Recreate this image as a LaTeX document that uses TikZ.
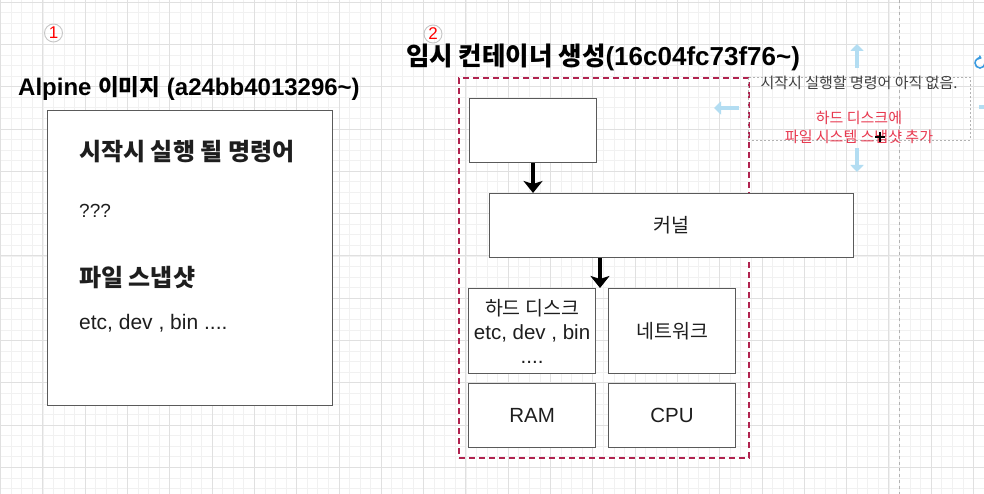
\documentclass[tikz,border=0pt]{standalone}
\usepackage{fontspec}
\setmainfont{Liberation Sans}
\newfontfamily\kr{Noto Sans CJK KR}
\usetikzlibrary{arrows.meta}
\definecolor{dred}{HTML}{B0234F}
\definecolor{anred}{HTML}{E8384F}
\definecolor{ltblue}{HTML}{B3DDF2}
\definecolor{rotblue}{HTML}{3A9AE0}
\definecolor{boxgray}{HTML}{5A5A5A}
\definecolor{txt}{HTML}{1E1E1E}
\newcommand{\fsz}[1]{\fontsize{#1}{#1}\selectfont}
\newcommand{\K}[1]{{\kr #1}}
\newcommand{\KS}[2]{{\kr\fsz{#1}#2}}
\begin{document}
\begin{tikzpicture}[x=1pt,y=-1pt,
  box/.style={draw=boxgray, line width=1.1pt, fill=white, inner sep=0pt, anchor=north west},
  reddash/.style={draw=dred, line width=2pt, dash pattern=on 6pt off 4pt, inner sep=0pt, anchor=north west},
  selbox/.style={draw=gray!60, line width=0.8pt, dash pattern=on 2pt off 2pt, inner sep=0pt, anchor=north west},
  arr/.style={line width=3.5pt, -{Stealth[length=12pt,width=19pt,inset=3pt]}},
  hint/.style={ltblue, line width=4pt, -{Triangle[length=7pt,width=13pt]}},
  numc/.style={circle, draw=gray!45, line width=0.9pt, minimum size=18pt, inner sep=0pt, text=red, font=\fsz{17}},
  boxtxt/.style={text=txt, font=\fsz{20.5}, align=center},
  lefttxt/.style={anchor=west, text=txt, inner sep=0pt}
]
\useasboundingbox (0,0) rectangle (984,494);
\fill[white] (0,0) rectangle (984,494);
% grid
\foreach \i in {0,...,93} {
  \draw[gray!11, line width=0.6pt] ({0.5+\i*10.575},0) -- ({0.5+\i*10.575},494);
}
\foreach \i in {0,...,47} {
  \draw[gray!11, line width=0.6pt] (0,{2+\i*10.575}) -- (984,{2+\i*10.575});
}
\foreach \i in {0,...,23} {
  \draw[gray!24, line width=0.7pt] ({0.5+\i*42.3},0) -- ({0.5+\i*42.3},494);
}
\foreach \i in {0,...,11} {
  \draw[gray!24, line width=0.7pt] (0,{2+\i*42.3}) -- (984,{2+\i*42.3});
}
\coordinate (pgtop) at (899,0);
\coordinate (pgbot) at (899,494);
\draw[gray!60, line width=0.8pt, dash pattern=on 3pt off 3pt] (pgtop) -- (pgbot);

% ---------- left part ----------
\node[numc] (c1) at (53.5,33) {1};
\node[lefttxt, text=black, font=\bfseries\fsz{24}] (t1) at (18,88) {Alpine \KS{22.5}{이미지} (a24bb4013296\textasciitilde)};
\node[box, minimum width=285pt, minimum height=295pt] (img) at (47,110) {};
\node[lefttxt, font=\bfseries\fsz{24}] (cmdh) at (79,152) {\K{시작시 실행 될 명령어}};
\node[lefttxt, font=\fsz{19}] (cmdv) at (79,211) {???};
\node[lefttxt, font=\bfseries\fsz{24}] (fsh) at (79,278) {\K{파일 스냅샷}};
\node[lefttxt, font=\fsz{21}] (fsv) at (79,323) {etc, dev , bin ....};

% ---------- right part ----------
\node[numc] (c2) at (433,34) {2};
\node[lefttxt, text=black, font=\bfseries\fsz{26}] (t2) at (406,57) {\KS{25.5}{임시 컨테이너 생성}(16c04fc73f76\textasciitilde)};
\node[reddash, minimum width=290pt, minimum height=380pt] (cont) at (458,77) {};

\node[box, minimum width=127pt, minimum height=64pt] (top) at (469,98) {};
\node[box, minimum width=364pt, minimum height=64pt, boxtxt] (kern) at (489,193) {\KS{19.5}{커널}};
\node[box, minimum width=127pt, minimum height=85pt, boxtxt] (hdd) at (468,288) {\KS{19.5}{하드 디스크}\\[4pt]etc, dev , bin\\[3pt]....};
\node[box, minimum width=127pt, minimum height=85pt, boxtxt] (net) at (608,288) {\KS{19.5}{네트워크}};
\node[box, minimum width=127pt, minimum height=64pt, boxtxt] (ram) at (468,383) {RAM};
\node[box, minimum width=127pt, minimum height=64pt, boxtxt] (cpu) at (608,383) {CPU};

\draw[arr] (top.south) -- (top.south |- kern.north);
\coordinate (a2) at (600,288);
\draw[arr] (kern.south -| a2) -- (a2);

% annotation (selected text)
\node[selbox, minimum width=222pt, minimum height=63pt] (note) at (748,77) {};
\node[text=black!75, font=\kr\fsz{15}] (n1) at (859,83) {시작시 실행할 명령어 아직 없음.};
\node[text=anred, font=\kr\fsz{15}, align=center] (n2) at (859,127) {하드 디스크에\\[4pt]파일 시스템 스냅샷 추가};

% editor hint arrows
\coordinate (u1) at (857,68); \coordinate (u2) at (857,44);
\coordinate (l1) at (739,108); \coordinate (l2) at (714,108);
\coordinate (d1) at (857,148); \coordinate (d2) at (857,172);
\coordinate (r1) at (979,107); \coordinate (r2) at (1000,107);
\draw[hint] (u1) -- (u2);
\draw[hint] (l1) -- (l2);
\draw[hint] (d1) -- (d2);
\draw[hint] (r1) -- (r2);
\draw[rotblue, line width=1.6pt, -{Triangle[length=3pt,width=5pt]}] (985,63) arc[start angle=0, end angle=290, radius=5];
% cursor
\coordinate (cur) at (880,137);
\draw[black, line width=1.6pt] ([xshift=-5pt]cur) -- ([xshift=5pt]cur) ([yshift=-5pt]cur) -- ([yshift=5pt]cur);
\end{tikzpicture}
\end{document}
